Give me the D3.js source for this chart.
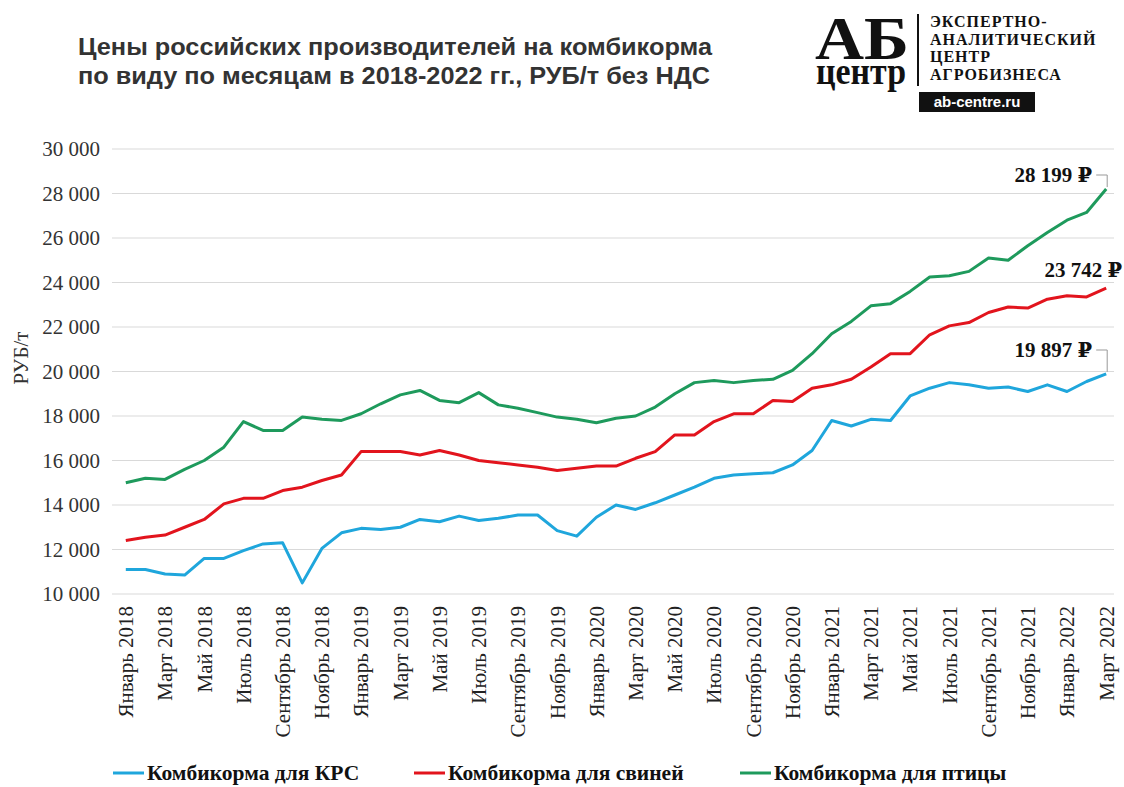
<!DOCTYPE html>
<html>
<head>
<meta charset="utf-8">
<script src="https://cdn.jsdelivr.net/npm/d3@7"></script>
<style>
  body { margin: 0; background: #fff; }
  svg { display: block; }
</style>
</head>
<body>
<script>
// month names and years for the category axis
const monthNames = ["Январь", "Февраль", "Март", "Апрель", "Май", "Июнь",
    "Июль", "Август", "Сентябрь", "Октябрь", "Ноябрь", "Декабрь"];
const years = [2018, 2019, 2020, 2021, 2022];
const monthCount = 51; // Январь 2018 .. Март 2022

const yTicks = [10000, 12000, 14000, 16000, 18000, 20000, 22000, 24000, 26000, 28000, 30000];

// Комбикорма для КРС
const krs = [11100, 11100, 10900, 10850, 11600, 11600, 11950, 12250, 12300, 10500,
    12050, 12750, 12950, 12900, 13000, 13350, 13250, 13500, 13300, 13400,
    13550, 13550, 12850, 12600, 13450, 14000, 13800, 14100, 14450, 14800,
    15200, 15350, 15400, 15450, 15800, 16450, 17800, 17550, 17850, 17800,
    18900, 19250, 19500, 19400, 19250, 19300, 19100, 19400, 19100, 19550,
    19897];
// Комбикорма для свиней
const pigs = [12400, 12550, 12650, 13000, 13350, 14050, 14300, 14300, 14650, 14800,
    15100, 15350, 16400, 16400, 16400, 16250, 16450, 16250, 16000, 15900,
    15800, 15700, 15550, 15650, 15750, 15750, 16100, 16400, 17150, 17150,
    17750, 18100, 18100, 18700, 18650, 19250, 19400, 19650, 20200, 20800,
    20800, 21650, 22050, 22200, 22650, 22900, 22850, 23250, 23400, 23350,
    23742];
// Комбикорма для птицы
const poultry = [15000, 15200, 15150, 15600, 16000, 16600, 17750, 17350, 17350, 17950,
    17850, 17800, 18100, 18550, 18950, 19150, 18700, 18600, 19050, 18500,
    18350, 18150, 17950, 17850, 17700, 17900, 18000, 18400, 19000, 19500,
    19600, 19500, 19600, 19650, 20050, 20800, 21700, 22250, 22950, 23050,
    23600, 24250, 24300, 24500, 25100, 25000, 25650, 26250, 26800, 27150,
    28199];

const seriesNames = ["Комбикорма для КРС", "Комбикорма для свиней", "Комбикорма для птицы"];
const seriesColors = ["#1fa6dc", "#e2141d", "#1e9a5c"];
const endLabels = ["19 897 ₽", "23 742 ₽", "28 199 ₽"];

const months = [];
for (let i = 0; i < monthCount; i++) {
    months.push(monthNames[i % 12] + " " + years[Math.floor(i / 12)]);
}

const width = 1124, height = 787;
const serif = "'Liberation Serif', 'Times New Roman', 'DejaVu Serif', serif";
const sans = "'Liberation Sans', Arial, sans-serif";

const svg = d3.select("body")
    .append("svg")
    .attr("width", width)
    .attr("height", height);

const x = d3.scaleBand()
    .domain(months)
    .range([116, 1116]);

const y = d3.scaleLinear()
    .domain([10000, 30000])
    .range([594, 149]);

const cx = d => x(d) + x.bandwidth() / 2;

// gridlines + y labels
svg.append("g")
    .selectAll("line")
    .data(yTicks)
    .join("line")
    .attr("x1", 112)
    .attr("x2", 1114)
    .attr("y1", d => y(d))
    .attr("y2", d => y(d))
    .attr("stroke", "#d9d9d9")
    .attr("stroke-width", 1.2);

svg.append("g")
    .selectAll("text")
    .data(yTicks)
    .join("text")
    .attr("x", 100)
    .attr("y", d => y(d))
    .attr("dy", "0.35em")
    .attr("text-anchor", "end")
    .attr("font-family", serif)
    .attr("font-size", 21)
    .attr("fill", "#333")
    .text(d => d3.format(",")(d).replace(",", " "));

svg.append("text")
    .attr("transform", "translate(21,358) rotate(-90)")
    .attr("dy", "0.35em")
    .attr("text-anchor", "middle")
    .attr("font-family", serif)
    .attr("font-size", 21)
    .attr("fill", "#333")
    .text("РУБ/т");

// x labels, every second month
svg.append("g")
    .selectAll("text")
    .data(months.filter((m, i) => i % 2 === 0))
    .join("text")
    .attr("transform", d => "translate(" + cx(d) + ",606) rotate(-90)")
    .attr("dy", "0.35em")
    .attr("text-anchor", "end")
    .attr("font-family", serif)
    .attr("font-size", 21)
    .attr("fill", "#222")
    .text(d => d);

// lines
const allSeries = [krs, pigs, poultry];
const line = d3.line()
    .x((d, i) => cx(months[i]))
    .y(d => y(d));

allSeries.forEach((values, k) => {
    svg.append("path")
        .datum(values)
        .attr("fill", "none")
        .attr("stroke", seriesColors[k])
        .attr("stroke-width", 3)
        .attr("stroke-linejoin", "round")
        .attr("d", line);
});

// end value labels
const lastMonth = months[monthCount - 1];
const lx = cx(lastMonth);
const labelPos = [
    { dx: -14, ty: 357, leader: true },
    { dx: 16, ty: 277, leader: false },
    { dx: -14, ty: 182, leader: true }
];
allSeries.forEach((values, k) => {
    const v = values[values.length - 1];
    const p = labelPos[k];
    svg.append("text")
        .attr("x", lx + p.dx)
        .attr("y", p.ty)
        .attr("text-anchor", "end")
        .attr("font-family", serif)
        .attr("font-weight", "bold")
        .attr("font-size", 21)
        .attr("fill", "#111")
        .text(endLabels[k]);
    if (p.leader) {
        svg.append("polyline")
            .attr("points", [[lx - 10, p.ty - 7], [lx + 1, p.ty - 7], [lx + 1, y(v) - 2]].join(" "))
            .attr("fill", "none")
            .attr("stroke", "#999")
            .attr("stroke-width", 1);
    }
});

// legend
const legendX = [113, 414, 740];
const legend = svg.append("g");
seriesNames.forEach((name, k) => {
    legend.append("line")
        .attr("x1", legendX[k])
        .attr("x2", legendX[k] + 31)
        .attr("y1", 773)
        .attr("y2", 773)
        .attr("stroke", seriesColors[k])
        .attr("stroke-width", 3);
    legend.append("text")
        .attr("x", legendX[k] + 34)
        .attr("y", 780)
        .attr("font-family", serif)
        .attr("font-weight", "bold")
        .attr("font-size", 21.5)
        .attr("fill", "#111")
        .text(name);
});

// title
const title = svg.append("text")
    .attr("font-family", sans)
    .attr("font-weight", "bold")
    .attr("font-size", 23)
    .attr("fill", "#333");
title.append("tspan").attr("x", 78).attr("y", 55)
    .attr("textLength", 634).attr("lengthAdjust", "spacingAndGlyphs")
    .text("Цены российских производителей на комбикорма");
title.append("tspan").attr("x", 78).attr("y", 84)
    .attr("textLength", 632).attr("lengthAdjust", "spacingAndGlyphs")
    .text("по виду по месяцам в 2018-2022 гг., РУБ/т без НДС");

// logo: "АБ" over "центр" as one text block
const logo = svg.append("g");
const mark = logo.append("text")
    .attr("text-anchor", "middle")
    .attr("font-family", serif)
    .attr("font-weight", "bold")
    .attr("fill", "#111");
mark.append("tspan")
    .attr("x", 862).attr("y", 59)
    .attr("font-size", 62)
    .attr("textLength", 94).attr("lengthAdjust", "spacingAndGlyphs")
    .text("АБ");
mark.append("tspan")
    .attr("x", 861).attr("y", 84)
    .attr("font-size", 38)
    .attr("textLength", 90).attr("lengthAdjust", "spacingAndGlyphs")
    .text("центр");
logo.append("line")
    .attr("x1", 918).attr("x2", 918)
    .attr("y1", 14).attr("y2", 86)
    .attr("stroke", "#111")
    .attr("stroke-width", 2);
const logoLines = ["ЭКСПЕРТНО-", "АНАЛИТИЧЕСКИЙ", "ЦЕНТР", "АГРОБИЗНЕСА"];
logo.selectAll("text.ll")
    .data(logoLines)
    .join("text")
    .attr("class", "ll")
    .attr("x", 930)
    .attr("y", (d, i) => 27 + i * 17.5)
    .attr("font-family", serif)
    .attr("font-weight", "bold")
    .attr("font-size", 16)
    .attr("letter-spacing", 1)
    .attr("fill", "#111")
    .text(d => d);
logo.append("rect")
    .attr("x", 919).attr("y", 92)
    .attr("width", 116).attr("height", 20)
    .attr("fill", "#111");
logo.append("text")
    .attr("x", 977)
    .attr("y", 107)
    .attr("text-anchor", "middle")
    .attr("font-family", sans)
    .attr("font-weight", "bold")
    .attr("font-size", 15)
    .attr("fill", "#fff")
    .text("ab-centre.ru");
</script>
</body>
</html>
